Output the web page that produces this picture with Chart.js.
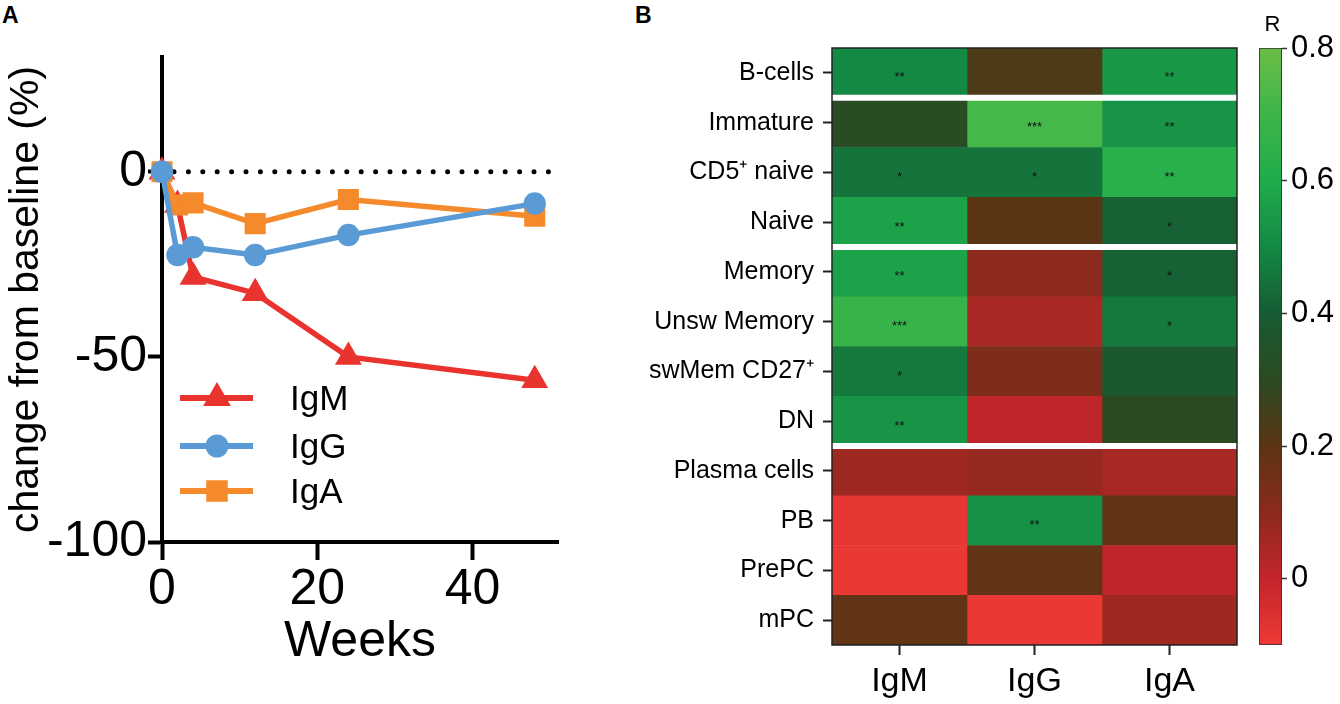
<!DOCTYPE html>
<html>
<head>
<meta charset="utf-8">
<script src="https://cdn.jsdelivr.net/npm/chart.js@4.4.1/dist/chart.umd.min.js"></script>
<style>
  body { margin: 0; background: #fff; }
  #wrap { position: relative; width: 1340px; height: 704px; overflow: hidden; }
  canvas { position: absolute; }
  .panel { position: absolute; font: bold 23px "Liberation Sans", Arial, sans-serif; color: #000; }
</style>
</head>
<body>
<div id="wrap">
  <div class="panel" style="left:2px;top:2px;">A</div>
  <div class="panel" style="left:635px;top:2px;">B</div>
  <div style="position:absolute;left:0;top:0;width:600px;height:704px;"><canvas id="lineChart"></canvas></div>
  <div style="position:absolute;left:640px;top:0;width:600px;height:704px;"><canvas id="heatChart"></canvas></div>
  <div style="position:absolute;left:1240px;top:0;width:100px;height:704px;"><canvas id="barScale"></canvas></div>
</div>
<script>
// panel A data
const weeks = [0, 2, 4, 12, 24, 48];
const igmChange = [0, -9, -28.4, -32.8, -50, -56.3];
const iggChange = [0, -22.5, -20.4, -22.5, -17.1, -8.6];
const igaChange = [0, -9, -8.4, -14, -7.5, -12];
const weekTicks = [0, 20, 40];
const changeTicks = [-100, -50, 0];

// panel B data
const cellTypes = ['B-cells', 'Immature', 'CD5\u207A naive', 'Naive', 'Memory', 'Unsw Memory',
  'swMem CD27\u207A', 'DN', 'Plasma cells', 'PB', 'PrePC', 'mPC'];
const isotypes = ['IgM', 'IgG', 'IgA'];
const rIgM = [0.50, 0.31, 0.45, 0.57, 0.57, 0.68, 0.46, 0.53, 0.07, -0.08, -0.09, 0.19];
const rIgG = [0.23, 0.72, 0.45, 0.20, 0.10, 0.05, 0.13, 0.01, 0.08, 0.52, 0.19, -0.09];
const rIgA = [0.54, 0.53, 0.63, 0.41, 0.41, 0.46, 0.38, 0.30, 0.05, 0.19, 0.01, 0.07];
const starsIgM = ['**', '', '*', '**', '**', '***', '*', '**', '', '', '', ''];
const starsIgG = ['', '***', '*', '', '', '', '', '', '', '**', '', ''];
const starsIgA = ['**', '**', '**', '*', '*', '*', '', '', '', '', '', ''];
const groupBreaks = [0, 3, 7]; // white line after these rows
const rTicks = [0, 0.2, 0.4, 0.6, 0.8];

// colour scale of R
const scaleStops = [
  [-0.1, '#ee3a36'], [0.0, '#c3252b'], [0.1, '#8c2a1d'], [0.2, '#5b3514'],
  [0.3, '#2c4a22'], [0.4, '#175c33'], [0.5, '#138a44'], [0.6, '#20ac4b'],
  [0.7, '#3db54a'], [0.8, '#6abd45']
];

function hexToRgb(h) {
  return [parseInt(h.substr(1, 2), 16), parseInt(h.substr(3, 2), 16), parseInt(h.substr(5, 2), 16)];
}
function colorFor(v) {
  if (v <= scaleStops[0][0]) return scaleStops[0][1];
  for (let i = 1; i < scaleStops.length; i++) {
    if (v <= scaleStops[i][0]) {
      const a = scaleStops[i - 1], b = scaleStops[i];
      const t = (v - a[0]) / (b[0] - a[0]);
      const ca = hexToRgb(a[1]), cb = hexToRgb(b[1]);
      const c = ca.map((x, k) => Math.round(x + (cb[k] - x) * t));
      return 'rgb(' + c.join(',') + ')';
    }
  }
  return scaleStops[scaleStops.length - 1][1];
}

const FONT = '"Liberation Sans", Arial, sans-serif';
Chart.defaults.font.family = FONT;
Chart.defaults.color = '#000';

// ---------- Panel A ----------
const toPoints = vals => weeks.map((w, i) => ({x: w, y: vals[i]}));

const zeroLine = {
  id: 'zeroLine',
  beforeDatasetsDraw(chart) {
    const {ctx, chartArea, scales} = chart;
    const y = scales.y.getPixelForValue(0);
    ctx.save();
    ctx.strokeStyle = '#000';
    ctx.lineWidth = 5;
    ctx.lineCap = 'round';
    ctx.setLineDash([0, 14.4]);
    ctx.beginPath();
    ctx.moveTo(chartArea.left + 12, y);
    ctx.lineTo(chartArea.right - 8, y);
    ctx.stroke();
    ctx.restore();
  }
};

const lineLegend = {
  id: 'lineLegend',
  afterDraw(chart) {
    const {ctx} = chart;
    const rows = [398, 446, 491];
    chart.data.datasets.forEach((ds, i) => {
      const y = rows[i];
      ctx.save();
      ctx.strokeStyle = ds.borderColor;
      ctx.lineWidth = 6;
      ctx.beginPath();
      ctx.moveTo(180, y);
      ctx.lineTo(253, y);
      ctx.stroke();
      ctx.fillStyle = ds.borderColor;
      ctx.strokeStyle = ds.borderColor;
      Chart.helpers.drawPoint(ctx, {pointStyle: ds.pointStyle, radius: ds.pointRadius, rotation: 0, borderWidth: 1}, 217, y);
      ctx.fillStyle = '#000';
      ctx.font = '35px ' + FONT;
      ctx.textBaseline = 'middle';
      ctx.fillText(ds.label, 290, y + 2);
      ctx.restore();
    });
  }
};

new Chart(document.getElementById('lineChart'), {
  type: 'line',
  data: {
    datasets: [
      {label: 'IgM', data: toPoints(igmChange), borderColor: '#e8332e', backgroundColor: '#e8332e',
       pointStyle: 'triangle', pointRadius: 10, borderWidth: 5.5, clip: false, order: 2},
      {label: 'IgG', data: toPoints(iggChange), borderColor: '#5b9bd5', backgroundColor: '#5b9bd5',
       pointStyle: 'circle', pointRadius: 8.5, borderWidth: 5.5, clip: false, order: 0},
      {label: 'IgA', data: toPoints(igaChange), borderColor: '#f58a2c', backgroundColor: '#f58a2c',
       pointStyle: 'rect', pointRadius: 11, borderWidth: 5.5, clip: false, order: 1}
    ]
  },
  options: {
    responsive: true,
    maintainAspectRatio: false,
    animation: false,
    layout: {padding: {top: 57, right: 42, bottom: 0, left: 0}},
    plugins: {legend: {display: false}, tooltip: {enabled: false}},
    elements: {line: {tension: 0}},
    scales: {
      x: {
        type: 'linear', min: 0, max: 51,
        afterBuildTicks: s => { s.ticks = weekTicks.map(v => ({value: v})); },
        afterFit: s => { s.height = 162; },
        grid: {drawOnChartArea: false, tickLength: 18, tickWidth: 4, tickColor: '#000'},
        border: {width: 4, color: '#000'},
        ticks: {font: {size: 50}, padding: 0, maxRotation: 0},
        title: {display: true, text: 'Weeks', font: {size: 50}, padding: {top: 0, bottom: 32}}
      },
      y: {
        min: -100, max: 31,
        afterBuildTicks: s => { s.ticks = changeTicks.map(v => ({value: v})); },
        afterFit: s => { s.width = 162; },
        grid: {drawOnChartArea: false, tickLength: 14, tickWidth: 4, tickColor: '#000'},
        border: {width: 4, color: '#000'},
        ticks: {font: {size: 50}, padding: 1},
        title: {display: true, text: 'change from baseline (%)', font: {size: 41}, padding: {top: 2, bottom: 0}}
      }
    }
  },
  plugins: [zeroLine, lineLegend]
});

// ---------- Panel B ----------
const rByIsotype = [rIgM, rIgG, rIgA];
const starsByIsotype = [starsIgM, starsIgG, starsIgA];

const heatExtras = {
  id: 'heatExtras',
  afterDatasetsDraw(chart) {
    const {ctx, chartArea, scales} = chart;
    ctx.save();
    // group separators
    ctx.strokeStyle = '#fff';
    ctx.lineWidth = 6;
    groupBreaks.forEach(i => {
      const y = (scales.y.getPixelForValue(i) + scales.y.getPixelForValue(i + 1)) / 2;
      ctx.beginPath();
      ctx.moveTo(chartArea.left, y);
      ctx.lineTo(chartArea.right, y);
      ctx.stroke();
    });
    // significance stars
    ctx.fillStyle = '#111';
    ctx.font = '13px ' + FONT;
    ctx.textAlign = 'center';
    ctx.textBaseline = 'middle';
    starsByIsotype.forEach((col, c) => {
      col.forEach((s, r) => {
        if (!s) return;
        ctx.fillText(s, scales.x.getPixelForValue(c + 0.5), scales.y.getPixelForValue(r) + 5);
      });
    });
    // outline
    ctx.strokeStyle = '#222';
    ctx.lineWidth = 1.5;
    ctx.strokeRect(chartArea.left, chartArea.top, chartArea.right - chartArea.left, chartArea.bottom - chartArea.top);
    ctx.restore();
  }
};

new Chart(document.getElementById('heatChart'), {
  type: 'bar',
  data: {
    labels: cellTypes,
    datasets: isotypes.map((name, c) => ({
      label: name,
      data: cellTypes.map(() => [c, c + 1]),
      backgroundColor: rByIsotype[c].map(colorFor),
      borderWidth: 0,
      barPercentage: 1,
      categoryPercentage: 1,
      grouped: false
    }))
  },
  options: {
    indexAxis: 'y',
    responsive: true,
    maintainAspectRatio: false,
    animation: false,
    layout: {padding: {top: 48, right: 3, bottom: 0, left: 0}},
    plugins: {legend: {display: false}, tooltip: {enabled: false}},
    scales: {
      x: {
        type: 'linear', min: 0, max: 3,
        afterBuildTicks: s => { s.ticks = isotypes.map((n, i) => ({value: i + 0.5})); },
        afterFit: s => { s.height = 59; },
        grid: {drawOnChartArea: false, tickLength: 10, tickWidth: 2, tickColor: '#222'},
        border: {display: false},
        ticks: {font: {size: 34}, padding: 6, callback: (v, i) => isotypes[i]}
      },
      y: {
        afterFit: s => { s.width = 192; },
        grid: {offset: false, drawOnChartArea: false, tickLength: 9, tickWidth: 2, tickColor: '#222'},
        border: {display: false},
        ticks: {font: {size: 25}, padding: 9}
      }
    }
  },
  plugins: [heatExtras]
});

// ---------- colour bar ----------
const barTitle = {
  id: 'barTitle',
  afterDraw(chart) {
    const {ctx, chartArea} = chart;
    ctx.save();
    ctx.fillStyle = '#000';
    ctx.font = '22px ' + FONT;
    ctx.textAlign = 'center';
    ctx.textBaseline = 'bottom';
    ctx.fillText('R', (chartArea.left + chartArea.right) / 2 + 2, chartArea.top - 12);
    ctx.restore();
  }
};

new Chart(document.getElementById('barScale'), {
  type: 'bar',
  data: {
    labels: [''],
    datasets: [{
      data: [[scaleStops[0][0], scaleStops[scaleStops.length - 1][0]]],
      backgroundColor: ctx => {
        const chart = ctx.chart;
        if (!chart.chartArea) return '#888';
        const y = chart.scales.y;
        const g = chart.ctx.createLinearGradient(0, y.getPixelForValue(scaleStops[0][0]), 0,
          y.getPixelForValue(scaleStops[scaleStops.length - 1][0]));
        const span = scaleStops[scaleStops.length - 1][0] - scaleStops[0][0];
        scaleStops.forEach(s => g.addColorStop((s[0] - scaleStops[0][0]) / span, s[1]));
        return g;
      },
      borderColor: '#333',
      borderWidth: 1.2,
      borderSkipped: false,
      barPercentage: 1,
      categoryPercentage: 1
    }]
  },
  options: {
    responsive: true,
    maintainAspectRatio: false,
    animation: false,
    layout: {padding: {top: 48, right: 0, bottom: 59, left: 19}},
    plugins: {legend: {display: false}, tooltip: {enabled: false}},
    scales: {
      x: {display: false},
      y: {
        position: 'right',
        min: -0.1, max: 0.8,
        afterBuildTicks: s => { s.ticks = rTicks.map(v => ({value: v})); },
        afterFit: s => { s.width = 58; },
        grid: {drawOnChartArea: false, tickLength: 5, tickWidth: 1.5, tickColor: '#333'},
        border: {display: false},
        ticks: {font: {size: 31}, padding: 4, callback: v => String(v)}
      }
    }
  },
  plugins: [barTitle]
});
</script>
</body>
</html>
